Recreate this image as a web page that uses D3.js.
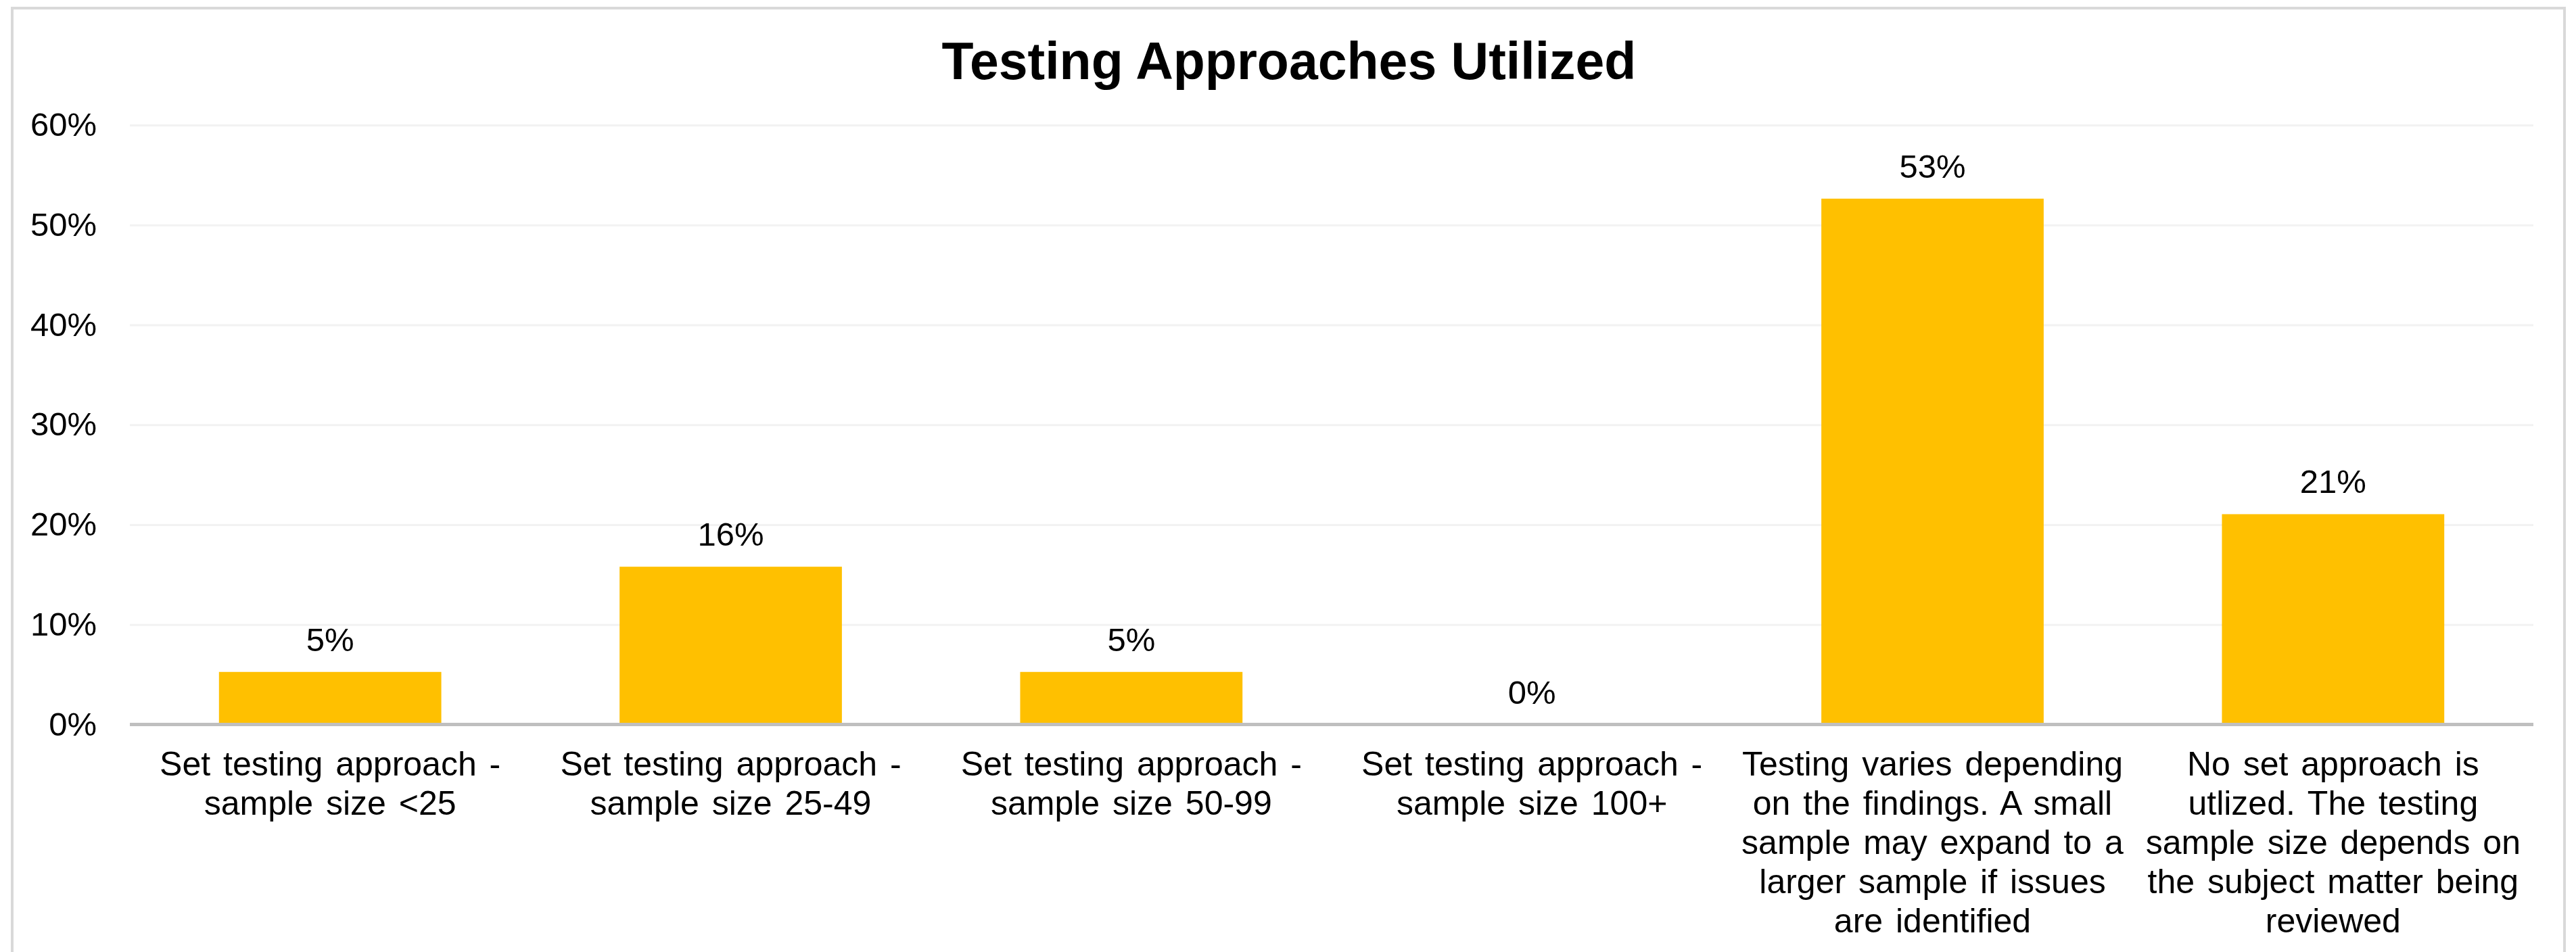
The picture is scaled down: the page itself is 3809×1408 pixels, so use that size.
<!DOCTYPE html>
<html>
<head>
<meta charset="utf-8">
<script src="https://cdn.jsdelivr.net/npm/d3@7"></script>
<style>
  html, body { margin: 0; padding: 0; background: #ffffff; }
  svg { display: block; }
  text { font-family: "Liberation Sans", Arial, sans-serif; fill: #000000; }
</style>
</head>
<body>
<script>
// ---- Data ----
const chartTitle = "Testing Approaches Utilized";
const categories = [
  ["Set testing approach -", "sample size <25"],
  ["Set testing approach -", "sample size 25-49"],
  ["Set testing approach -", "sample size 50-99"],
  ["Set testing approach -", "sample size 100+"],
  ["Testing varies depending", "on the findings. A small", "sample may expand to a", "larger sample if issues", "are identified"],
  ["No set approach is", "utlized. The testing", "sample size depends on", "the subject matter being", "reviewed"]
];
const values = [0.0526, 0.1579, 0.0526, 0.0, 0.5263, 0.2105];
const yTicks = [0, 0.1, 0.2, 0.3, 0.4, 0.5, 0.6];

// ---- Layout ----
const W = 3809, H = 1408;
const plot = { left: 192, right: 3746, top: 184.9, bottom: 1071.5 };

const svg = d3.select("body").append("svg")
  .attr("width", W).attr("height", H);

svg.append("rect").attr("width", W).attr("height", H).attr("fill", "#ffffff");

// chart border
svg.append("rect")
  .attr("x", 18).attr("y", 12)
  .attr("width", 3792 - 18).attr("height", H + 20)
  .attr("fill", "none").attr("stroke", "#d9d9d9").attr("stroke-width", 4);

const idx = categories.map((d, i) => i);
const x = d3.scaleBand().domain(idx)
  .range([plot.left, plot.right])
  .paddingInner(0.445).paddingOuter(0.2225);
const y = d3.scaleLinear().domain([0, 0.6]).range([plot.bottom, plot.top]);

// gridlines
const grid = d3.axisLeft(y).tickValues(yTicks.slice(1))
  .tickSize(-(plot.right - plot.left)).tickFormat("");
const gGrid = svg.append("g").attr("transform", `translate(${plot.left},0)`).call(grid);
gGrid.select(".domain").remove();
gGrid.selectAll("line").attr("stroke", "#f2f2f2").attr("stroke-width", 3);

// y tick labels
const yAxis = d3.axisLeft(y).tickValues(yTicks).tickSize(0).tickPadding(49)
  .tickFormat(d3.format(".0%"));
const gY = svg.append("g").attr("transform", `translate(${plot.left},0)`).call(yAxis);
gY.select(".domain").remove();
gY.selectAll("text")
  .attr("font-size", 49)
  .attr("font-family", "Liberation Sans, Arial, sans-serif")
  .attr("fill", "#000");

// bars
svg.append("g").selectAll("rect").data(values).join("rect")
  .attr("x", (d, i) => x(i))
  .attr("y", d => y(d))
  .attr("width", x.bandwidth())
  .attr("height", d => y(0) - y(d))
  .attr("fill", "#FFC000");

// x axis line
const xAxis = d3.axisBottom(x).tickSize(0).tickFormat("");
const gX = svg.append("g").attr("transform", `translate(0,${plot.bottom})`).call(xAxis);
gX.select(".domain").attr("stroke", "#bfbfbf").attr("stroke-width", 5)
  .attr("d", `M${plot.left},0H${plot.right}`);

// data labels
svg.append("g").selectAll("text").data(values).join("text")
  .attr("x", (d, i) => x(i) + x.bandwidth() / 2)
  .attr("y", d => y(d) - 31)
  .attr("text-anchor", "middle")
  .attr("font-size", 49)
  .text(d => d3.format(".0%")(d));

// category labels
const catG = svg.append("g");
categories.forEach((lines, i) => {
  const t = catG.append("text")
    .attr("x", x(i) + x.bandwidth() / 2)
    .attr("y", 1147)
    .attr("text-anchor", "middle")
    .attr("font-size", 50)
    .attr("word-spacing", 5);
  lines.forEach((ln, j) => {
    t.append("tspan")
      .attr("x", x(i) + x.bandwidth() / 2)
      .attr("dy", j === 0 ? 0 : 58)
      .text(ln);
  });
});

// title
svg.append("text")
  .attr("x", (plot.left + plot.right) / 2 - 63)
  .attr("y", 117)
  .attr("text-anchor", "middle")
  .attr("font-size", 77)
  .attr("font-weight", "bold")
  .text(chartTitle);
</script>
</body>
</html>
